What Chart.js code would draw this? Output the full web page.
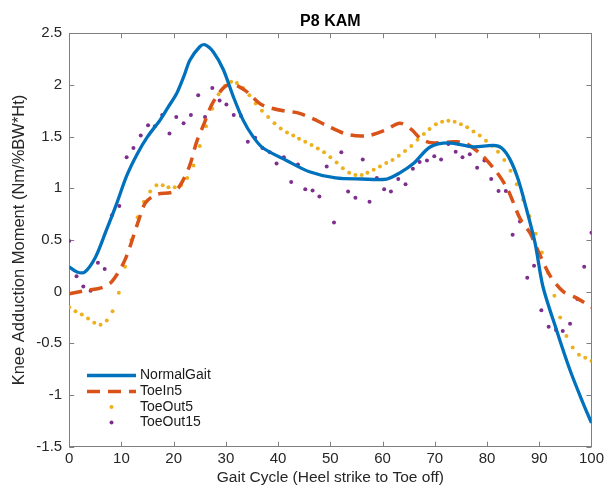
<!DOCTYPE html>
<html>
<head>
<meta charset="utf-8">
<title>P8 KAM</title>
<script src="https://cdn.jsdelivr.net/npm/chart.js@4.4.1/dist/chart.umd.min.js"></script>
<style>
  html, body { margin: 0; padding: 0; background: #fff; }
  #wrap { width: 607px; height: 489px; position: relative; }
</style>
</head>
<body>
<div id="wrap"><canvas id="kamChart"></canvas></div>
<script>
// series names
const seriesNames = ['NormalGait', 'ToeIn5', 'ToeOut5', 'ToeOut15'];

// NormalGait (solid line)
const normalX = [0, 1.5, 3, 5, 7, 9, 11, 13, 15, 17.4, 19, 20.6, 22, 23.1, 25, 26, 27.6, 29.5, 31.4, 33.3,
  35.2, 37.1, 41.6, 46, 51, 56, 60.8, 63.3, 65.9, 69.1, 72.6, 77.4, 81.2, 82.8, 84.4, 86, 87.6, 89.2,
  90.7, 93.3, 95.9, 98.4, 100];
const normalY = [0.24, 0.19, 0.19, 0.33, 0.58, 0.84, 1.12, 1.33, 1.50, 1.66, 1.79, 1.92, 2.09, 2.24, 2.37, 2.39,
  2.32, 2.15, 1.89, 1.66, 1.50, 1.39, 1.27, 1.16, 1.10, 1.09, 1.09, 1.15, 1.24, 1.40, 1.44, 1.40, 1.415,
  1.39, 1.28, 1.08, 0.79, 0.47, 0.05, -0.37, -0.76, -1.08, -1.27];

// ToeIn5 (dashed line)
const toeIn5X = [0, 3, 6.3, 8.2, 10.7, 13.3, 14.6, 16.7, 19.6, 21, 23, 24.4, 25.7, 27.3, 29.5, 31.1, 33.6,
  36.5, 38.4, 41.5, 43.8, 46.4, 49.6, 53.4, 57.2, 60.4, 63.3, 65.5, 67.3, 69.4, 73.5, 75.7, 78.6, 81.8,
  84, 86.3, 88.2, 90, 92, 94.6, 97.1, 100];
const toeIn5Y = [-0.02, 0.01, 0.04, 0.10, 0.31, 0.69, 0.86, 0.94, 0.96, 1.01, 1.21, 1.45, 1.61, 1.81, 1.97,
  2.01, 1.95, 1.82, 1.78, 1.745, 1.73, 1.68, 1.60, 1.52, 1.51, 1.56, 1.63, 1.57, 1.48, 1.44, 1.45, 1.44,
  1.34, 1.16, 0.985, 0.71, 0.57, 0.37, 0.16, 0.0, -0.06, -0.15];

// ToeOut5 (yellow dots)
const toeOut5X = [0, 1.2, 2.4, 3.6, 4.8, 6.0, 7.2, 8.3, 9.5, 10.7, 11.9, 13.1, 14.3, 15.5, 16.7, 17.9, 19.0,
  20.2, 21.4, 22.6, 23.8, 25.0, 26.2, 27.4, 28.6, 29.8, 31.0, 32.1, 33.3, 34.5, 35.7, 36.9, 38.1, 39.3,
  40.5, 41.7, 42.9, 44.0, 45.2, 46.4, 47.6, 48.8, 50.0, 51.2, 52.4, 53.6, 54.8, 56.0, 57.1, 58.3, 59.5,
  60.7, 61.9, 63.1, 64.3, 65.5, 66.7, 67.9, 69.0, 70.2, 71.4, 72.6, 73.8, 75.0, 76.2, 77.4, 78.6, 79.8,
  81.0, 82.1, 83.3, 84.5, 85.7, 86.9, 88.1, 89.3, 90.5, 91.7, 92.9, 94.0, 95.2, 96.4, 97.6, 98.8, 100];
const toeOut5Y = [-0.15, -0.19, -0.22, -0.26, -0.30, -0.32, -0.28, -0.19, -0.01, 0.24, 0.50, 0.72, 0.87, 0.97,
  1.03, 1.03, 1.01, 1.01, 1.03, 1.10, 1.22, 1.41, 1.60, 1.77, 1.91, 1.99, 2.03, 2.02, 1.97, 1.90, 1.82,
  1.75, 1.69, 1.63, 1.58, 1.54, 1.51, 1.48, 1.45, 1.42, 1.385, 1.35, 1.30, 1.25, 1.195, 1.15, 1.13, 1.13,
  1.15, 1.18, 1.21, 1.245, 1.275, 1.315, 1.36, 1.41, 1.47, 1.525, 1.575, 1.62, 1.645, 1.655, 1.645, 1.62,
  1.59, 1.55, 1.51, 1.46, 1.41, 1.355, 1.275, 1.17, 1.04, 0.89, 0.73, 0.56, 0.38, 0.18, -0.04, -0.25,
  -0.43, -0.54, -0.61, -0.64, -0.67];

// ToeOut15 (purple dots)
const toeOut15X = [0, 1.4, 2.7, 4.1, 5.5, 6.8, 8.2, 9.6, 11.0, 12.3, 13.7, 15.1, 16.4, 17.8, 19.2, 20.5, 21.9,
  23.3, 24.7, 26.0, 27.4, 28.8, 30.1, 31.5, 32.9, 34.2, 35.6, 37.0, 38.4, 39.7, 41.1, 42.5, 43.8, 45.2,
  46.6, 47.9, 49.3, 50.7, 52.1, 53.4, 54.8, 56.2, 57.5, 58.9, 60.3, 61.6, 63.0, 64.4, 65.8, 67.1, 68.5,
  69.9, 71.2, 72.6, 74.0, 75.3, 76.7, 78.1, 79.5, 80.8, 82.2, 83.6, 84.9, 86.3, 87.7, 89.0, 90.4, 91.8,
  93.2, 94.5, 95.9, 97.3, 98.6, 100];
const toeOut15Y = [0.49, 0.15, 0.05, 0.01, 0.28, 0.22, 0.74, 0.83, 1.30, 1.39, 1.51, 1.61, 1.60, 1.71, 1.53,
  1.69, 1.63, 1.71, 1.90, 1.69, 1.97, 1.85, 1.81, 1.71, 1.70, 1.45, 1.49, 1.39, 1.35, 1.24, 1.30, 1.06,
  1.23, 0.99, 0.98, 0.92, 1.21, 0.67, 1.35, 0.97, 0.91, 1.28, 0.87, 1.10, 0.99, 0.97, 1.09, 1.04, 1.19,
  1.255, 1.27, 1.31, 1.28, 1.43, 1.355, 1.30, 1.33, 1.20, 1.27, 1.09, 0.975, 0.975, 0.55, 0.68, 0.135,
  0.25, -0.18, -0.34, -0.37, -0.38, -0.31, -0.07, 0.24, 0.57];

function pairs(xs, ys) {
  return xs.map((x, i) => ({ x: x, y: ys[i] }));
}

Chart.defaults.font.family = '"Liberation Sans", Arial, Helvetica, sans-serif';
Chart.defaults.color = '#262626';

// box round the axes with inward ticks, like the original figure
const axesBox = {
  id: 'axesBox',
  beforeDatasetsDraw(chart) {
    const { ctx, chartArea: a, scales } = chart;
    ctx.save();
    ctx.strokeStyle = '#7f7f7f';
    ctx.lineWidth = 1;
    ctx.strokeRect(Math.round(a.left) + 0.5, Math.round(a.top) + 0.5,
      Math.round(a.right - a.left), Math.round(a.bottom - a.top));
    ctx.beginPath();
    scales.x.ticks.forEach(t => {
      const px = Math.round(scales.x.getPixelForValue(t.value)) + 0.5;
      ctx.moveTo(px, a.bottom); ctx.lineTo(px, a.bottom - 5);
      ctx.moveTo(px, a.top); ctx.lineTo(px, a.top + 5);
    });
    scales.y.ticks.forEach(t => {
      const py = Math.round(scales.y.getPixelForValue(t.value)) + 0.5;
      ctx.moveTo(a.left, py); ctx.lineTo(a.left + 5, py);
      ctx.moveTo(a.right, py); ctx.lineTo(a.right - 5, py);
    });
    ctx.stroke();
    ctx.restore();
  }
};

// legend inside the lower left corner
const insideLegend = {
  id: 'insideLegend',
  afterDraw(chart) {
    const { ctx } = chart;
    const rows = [375.5, 391.5, 407, 422.5];
    const x0 = 87, x1 = 136;
    ctx.save();
    chart.data.datasets.forEach((ds, i) => {
      const y = rows[i];
      if (ds.showLine !== false) {
        ctx.beginPath();
        ctx.strokeStyle = ds.borderColor;
        ctx.lineWidth = ds.borderWidth;
        ctx.setLineDash(ds.borderDash || []);
        ctx.moveTo(x0, y); ctx.lineTo(x1, y);
        ctx.stroke();
        ctx.setLineDash([]);
      } else {
        ctx.beginPath();
        ctx.fillStyle = ds.pointBackgroundColor;
        ctx.arc((x0 + x1) / 2, y, ds.pointRadius, 0, Math.PI * 2);
        ctx.fill();
      }
      ctx.fillStyle = '#1a1a1a';
      ctx.font = '14px "Liberation Sans", Arial, Helvetica, sans-serif';
      ctx.textBaseline = 'middle';
      ctx.fillText(ds.label, 140, y);
    });
    ctx.restore();
  }
};

const ctx = document.getElementById('kamChart').getContext('2d');
new Chart(ctx, {
  type: 'line',
  data: {
    datasets: [{
      label: seriesNames[0],
      data: pairs(normalX, normalY),
      borderColor: '#0072BD',
      borderWidth: 3.3,
      pointRadius: 0,
      tension: 0.3,
      fill: false
    }, {
      label: seriesNames[1],
      data: pairs(toeIn5X, toeIn5Y),
      borderColor: '#D95319',
      borderWidth: 3.5,
      borderDash: [13, 8],
      pointRadius: 0,
      tension: 0.3,
      fill: false
    }, {
      label: seriesNames[2],
      data: pairs(toeOut5X, toeOut5Y),
      showLine: false,
      pointRadius: 2,
      pointBorderWidth: 0,
      pointBackgroundColor: '#EDB120',
      borderColor: '#EDB120'
    }, {
      label: seriesNames[3],
      data: pairs(toeOut15X, toeOut15Y),
      showLine: false,
      pointRadius: 2,
      pointBorderWidth: 0,
      pointBackgroundColor: '#7E2F8E',
      borderColor: '#7E2F8E'
    }]
  },
  options: {
    responsive: true,
    maintainAspectRatio: false,
    animation: false,
    layout: { padding: { left: 0, right: 15.3, top: 0, bottom: 0 } },
    scales: {
      x: {
        type: 'linear',
        min: 0,
        max: 100,
        ticks: { stepSize: 10, padding: 3, font: { size: 15 }, color: '#262626' },
        grid: { display: false, drawTicks: false },
        border: { display: false },
        title: {
          display: true,
          text: 'Gait Cycle (Heel strike to Toe off)',
          font: { size: 15.5 },
          color: '#262626',
          padding: { top: 0, bottom: 2 }
        },
        afterFit(scale) { scale.height = 42.3; }
      },
      y: {
        min: -1.5,
        max: 2.5,
        ticks: {
          stepSize: 0.5,
          padding: 7,
          font: { size: 15 },
          color: '#262626',
          callback: v => String(Math.round(v * 10) / 10)
        },
        grid: { display: false, drawTicks: false },
        border: { display: false },
        title: {
          display: true,
          text: 'Knee Adduction Moment (Nm/%BW*Ht)',
          font: { size: 16.5 },
          color: '#262626',
          padding: { top: 10, bottom: 0 }
        },
        afterFit(scale) { scale.width = 69.2; }
      }
    },
    plugins: {
      legend: { display: false },
      tooltip: { enabled: false },
      title: {
        display: true,
        text: 'P8 KAM',
        fullSize: false,
        font: { size: 16, weight: 'bold' },
        color: '#000',
        padding: { top: 11.5, bottom: 2.6 }
      }
    }
  },
  plugins: [axesBox, insideLegend]
});
</script>
</body>
</html>
